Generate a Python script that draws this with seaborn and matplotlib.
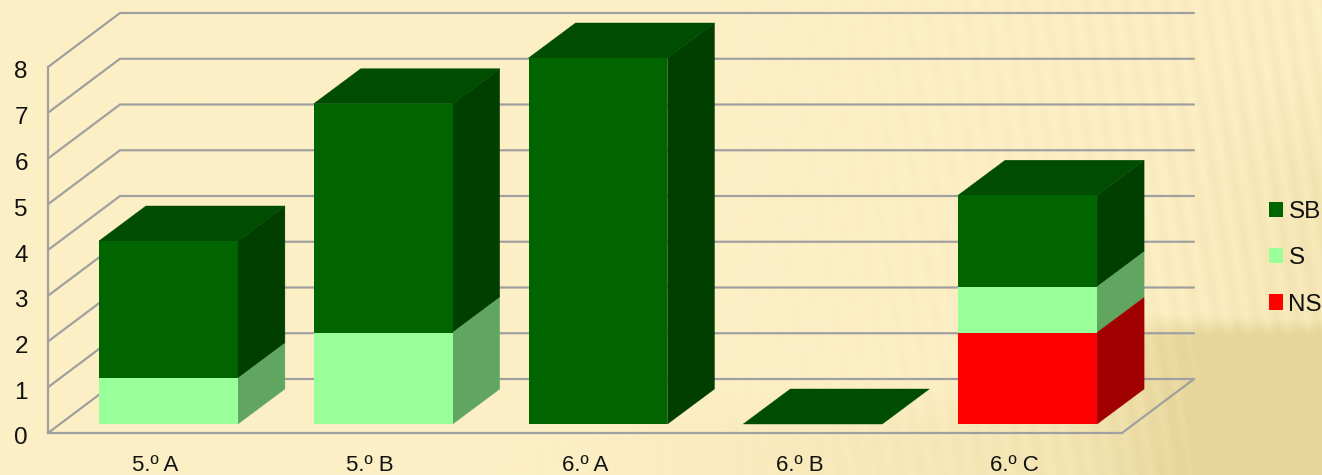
import numpy as np
import pandas as pd
import matplotlib
matplotlib.use("Agg")
import matplotlib.pyplot as plt
from matplotlib.patches import Polygon
from matplotlib.transforms import ScaledTranslation
import seaborn as sns

# ---- data ----
categories = ["5.º A", "5.º B", "6.º A", "6.º B", "6.º C"]
series_sb = [3, 5, 8, 0, 2]
series_s = [1, 2, 0, 0, 1]
series_ns = [0, 0, 0, 0, 2]
y_ticks = [0, 1, 2, 3, 4, 5, 6, 7, 8]

sns.set_theme(style="white")
plt.rcParams["font.family"] = ["Liberation Sans", "DejaVu Sans"]

W, H = 1322, 475
fig = plt.figure(figsize=(W / 100, H / 100), dpi=100)

# ---- textured paper backdrop ----
bg = fig.add_axes([0, 0, 1, 1], zorder=-1)
yy, xx = np.mgrid[0:H, 0:W]
light = np.array([254, 240, 198], float)
dark = np.array([231, 214, 155], float)
low = np.clip((yy - 312) / 24, 0, 1) * np.clip((xx - 960) / 250, 0, 1) ** 1.2
foot = np.clip((yy - 380) / 60, 0, 1) * np.clip((xx - 500) / 700, 0, 1) * 0.45
high = np.clip((yy - 60) / 120, 0, 1) * np.clip((xx - 1150) / 170, 0, 1) * 0.28
amt = np.clip(np.maximum.reduce([low, foot, high]), 0, 1)
stripes = 0.5 + 0.5 * np.sin((xx - 0.16 * yy) * 2 * np.pi / 20)
strength = 0.03 + 0.20 * np.clip((xx - 700) / 600, 0, 1)
amt = np.clip(amt + strength * stripes, 0, 1)
bg.imshow((light + (dark - light) * amt[..., None]).astype(np.uint8),
          aspect="auto", interpolation="bilinear")
bg.axis("off")

# ---- axes: the front plane of the 3-D box ----
L, R, B, T = 48, 1122, 433, 67
ax = fig.add_axes([L / W, 1 - B / H, (R - L) / W, (B - T) / H])
ax.patch.set_visible(False)

grey = "#A0A0A0"
frame = pd.DataFrame({
    "grade": categories * 3,
    "level": ["SB"] * 5 + ["S"] * 5 + ["NS"] * 5,
    "value": series_sb + series_s + series_ns,
})
stack_order = ["NS", "S", "SB"]
frame["top"] = 0
frame["bottom"] = 0
running = dict.fromkeys(categories, 0)
for lev in stack_order:
    for i in frame.index[frame.level == lev]:
        g = frame.at[i, "grade"]
        frame.at[i, "bottom"] = running[g]
        running[g] += frame.at[i, "value"]
        frame.at[i, "top"] = running[g]

face = {"SB": "#006400", "S": "#99FF99", "NS": "#FF0000"}
side = {"SB": "#003F00", "S": "#60A560", "NS": "#A00000"}
roof = {"SB": "#004C00", "S": "#70BF70", "NS": "#BF0000"}
bar_w = 0.647
sns.barplot(data=frame, x="grade", y="top", hue="level", hue_order=["SB", "S", "NS"],
            order=categories, dodge=False, width=bar_w, palette=face, saturation=1,
            ax=ax, linewidth=0, zorder=3)
handles, labels = ax.get_legend_handles_labels()
ax.get_legend().remove()

ax.set_xlim(-0.5, 4.5)
ax.set_ylim(0, 8)

# px -> data scale
sx = (R - L) / 5
sy = (B - T) / 8
wall_dx, wall_dy = 72 / sx, 54 / sy
bar_dx, bar_dy = 47 / sx, 35 / sy
shift = ScaledTranslation(13 / 100, 9 / 100, fig.dpi_scale_trans)
bar_trans = ax.transData + shift
for p in ax.patches:
    p.set_transform(bar_trans)
    p.set_clip_on(False)

# ---- walls and floor ----
x0, x1 = -0.5, 4.5
for v in y_ticks:
    ax.plot([x0, x0 + wall_dx, x1 + wall_dx], [v, v + wall_dy, v + wall_dy],
            color=grey, lw=1.6, clip_on=False, zorder=1, solid_joinstyle="miter")
ax.plot([x1, x1 + wall_dx], [0, wall_dy], color=grey, lw=1.6, clip_on=False, zorder=1)

# ---- side and roof faces of every stacked block ----
for i, row in frame.iterrows():
    c = categories.index(row.grade)
    xr = c + bar_w / 2
    if row.value > 0:
        ax.add_patch(Polygon([(xr, row.bottom), (xr + bar_dx, row.bottom + bar_dy),
                              (xr + bar_dx, row.top + bar_dy), (xr, row.top)],
                             closed=True, fc=side[row.level], ec=side[row.level], lw=0.3,
                             transform=bar_trans, clip_on=False, zorder=2.9))
for c, g in enumerate(categories):
    total = running[g]
    xr = c + bar_w / 2
    xl = c - bar_w / 2
    lev = "SB" if series_sb[c] > 0 or total == 0 else "S"
    ax.add_patch(Polygon([(xl, total), (xr, total), (xr + bar_dx, total + bar_dy),
                          (xl + bar_dx, total + bar_dy)],
                         closed=True, fc=roof[lev], ec=roof[lev], lw=0.3,
                         transform=bar_trans, clip_on=False, zorder=2.9))

# ---- axes dressing ----
ax.set_xlabel("")
ax.set_ylabel("")
ax.set_yticks(y_ticks)
ax.set_yticklabels([str(v) for v in y_ticks])
ax.tick_params(axis="y", length=0, pad=14.5, labelsize=17.5, labelcolor="#111111")
ax.tick_params(axis="x", length=0, pad=16, labelsize=16, labelcolor="#111111")
for lab in ax.get_yticklabels():
    lab.set_transform(lab.get_transform() + ScaledTranslation(0, -3 / 100, fig.dpi_scale_trans))
for s in ["top", "right"]:
    ax.spines[s].set_visible(False)
for s in ["left", "bottom"]:
    ax.spines[s].set_color(grey)
    ax.spines[s].set_linewidth(1.6)
    ax.spines[s].set_zorder(1)

fig.legend(handles, labels, loc="center left", bbox_to_anchor=(1269 / W, 1 - 258.5 / H),
           frameon=False, fontsize=17.5, handlelength=0.58, handleheight=0.58,
           handletextpad=0.22, labelspacing=0.99, borderpad=0, borderaxespad=0,
           labelcolor="#111111")

fig.savefig("out.png", dpi=100)
